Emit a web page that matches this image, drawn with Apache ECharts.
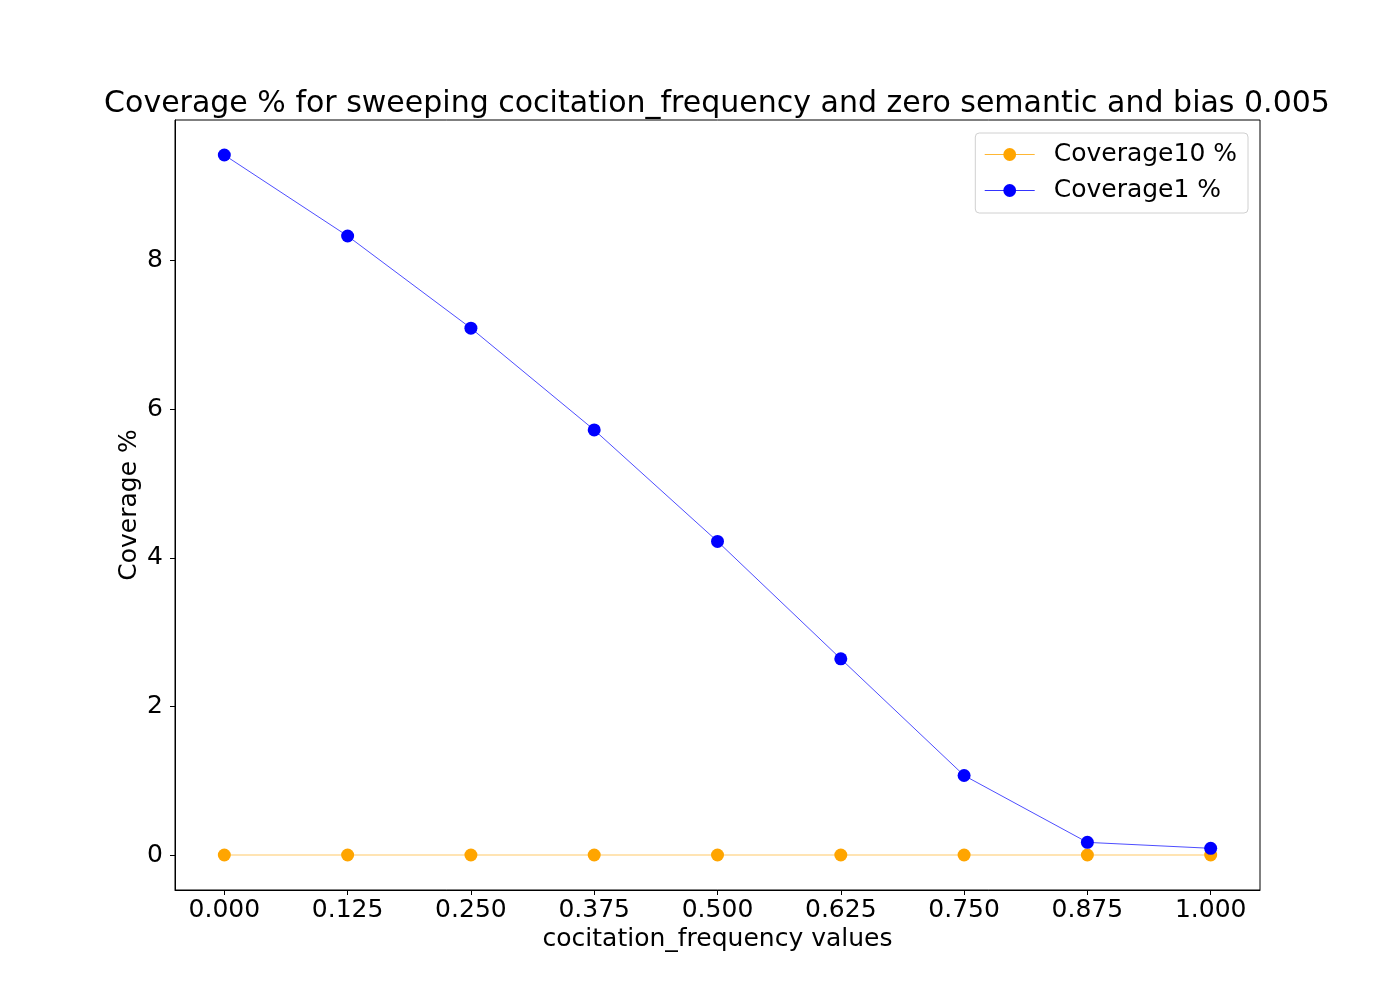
<!DOCTYPE html>
<html>
<head>
<meta charset="utf-8">
<script src="https://cdn.jsdelivr.net/npm/echarts@6/dist/echarts.min.js"></script>
<style>
  html, body { margin: 0; padding: 0; background: #fff; }
  #chart { width: 1400px; height: 1000px; }
</style>
</head>
<body>
<div id="chart"></div>
<script>
var xValues = [0.0, 0.125, 0.25, 0.375, 0.5, 0.625, 0.75, 0.875, 1.0];
var coverage10 = [0, 0, 0, 0, 0, 0, 0, 0, 0];
var coverage1 = [9.42, 8.33, 7.09, 5.72, 4.22, 2.64, 1.07, 0.17, 0.09];
var xTicks = [0.0, 0.125, 0.25, 0.375, 0.5, 0.625, 0.75, 0.875, 1.0];
var yTicks = [0, 2, 4, 6, 8];

var font = "DejaVu Sans";

function pairs(xs, ys) {
  return xs.map(function (x, i) { return [x, ys[i]]; });
}

var chart = echarts.init(document.getElementById("chart"));

chart.setOption({
  animation: false,
  backgroundColor: "#fff",
  textStyle: { fontFamily: font, color: "#000" },
  title: {
    text: "Coverage % for sweeping cocitation_frequency and zero semantic and bias 0.005",
    left: 712,
    top: 84,
    textAlign: "center",
    textStyle: { fontFamily: font, fontSize: 30, fontWeight: "normal", color: "#000" }
  },
  legend: {
    right: 152,
    top: 133,
    orient: "vertical",
    itemWidth: 50,
    itemHeight: 16,
    itemGap: 11,
    padding: [9, 11, 10, 9],
    borderColor: "#d0d0d0",
    borderWidth: 1,
    borderRadius: 4,
    lineStyle: { width: 0.8 },
    textStyle: { fontFamily: font, fontSize: 25, color: "#000", padding: [0, 0, 0, 14] },
    data: ["Coverage10 %", "Coverage1 %"]
  },
  grid: {
    left: 175,
    right: 140,
    top: 120,
    bottom: 110,
    show: true,
    borderColor: "#000",
    borderWidth: 1,
    containLabel: false
  },
  xAxis: {
    type: "value",
    min: -0.05,
    max: 1.05,
    name: "cocitation_frequency values",
    nameLocation: "middle",
    nameGap: 37,
    nameMoveOverlap: false,
    nameTextStyle: { fontFamily: font, fontSize: 25, color: "#000" },
    axisLine: { show: true, onZero: false, lineStyle: { color: "#000", width: 1 } },
    axisTick: { show: true, inside: false, length: 5, customValues: xTicks, lineStyle: { color: "#000" } },
    axisLabel: {
      customValues: xTicks,
      margin: 8,
      fontFamily: font,
      fontSize: 25,
      color: "#000",
      formatter: function (v) { return v.toFixed(3); }
    },
    splitLine: { show: false }
  },
  yAxis: {
    type: "value",
    min: -0.471,
    max: 9.891,
    name: "Coverage %",
    nameLocation: "middle",
    nameGap: 33,
    nameMoveOverlap: false,
    nameRotate: 90,
    nameTextStyle: { fontFamily: font, fontSize: 25, color: "#000" },
    axisLine: { show: true, onZero: false, lineStyle: { color: "#000", width: 1 } },
    axisTick: { show: true, inside: false, length: 5, customValues: yTicks, lineStyle: { color: "#000" } },
    axisLabel: {
      customValues: yTicks,
      margin: 12,
      fontFamily: font,
      fontSize: 25,
      color: "#000",
      formatter: function (v) { return String(v); }
    },
    splitLine: { show: false }
  },
  series: [
    {
      name: "Coverage10 %",
      type: "line",
      data: pairs(xValues, coverage10),
      symbol: "circle",
      symbolSize: 13,
      color: "orange",
      itemStyle: { color: "orange" },
      lineStyle: { color: "orange", width: 0.6 }
    },
    {
      name: "Coverage1 %",
      type: "line",
      data: pairs(xValues, coverage1),
      symbol: "circle",
      symbolSize: 13,
      color: "blue",
      itemStyle: { color: "blue" },
      lineStyle: { color: "blue", width: 0.7 }
    }
  ]
});
</script>
</body>
</html>
